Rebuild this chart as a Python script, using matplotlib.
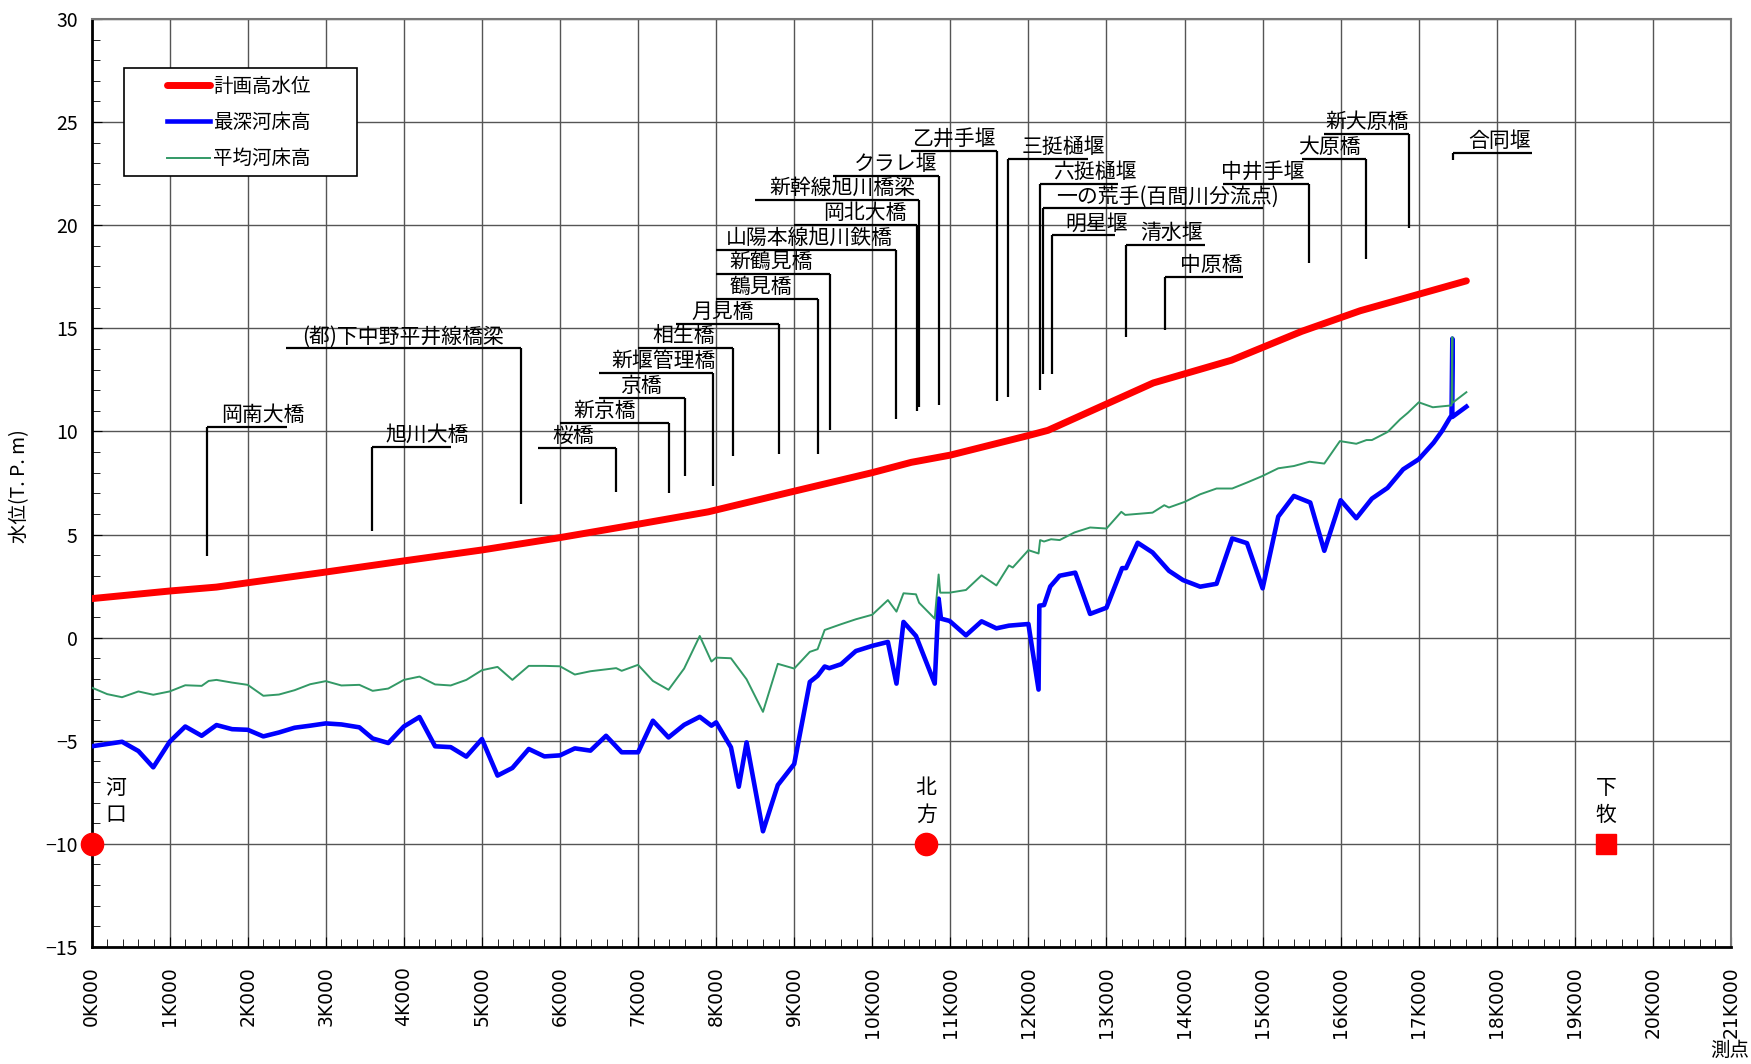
import matplotlib
matplotlib.use("Agg")
import matplotlib.pyplot as plt
from matplotlib.ticker import MultipleLocator
from matplotlib.patches import Rectangle

plt.rcParams['font.family'] = ['Noto Sans CJK JP', 'DejaVu Sans']

# 計画高水位 (km, T.P.m)
plan_km = [0.0, 1.0, 1.6, 2.0, 3.0, 4.0, 5.0, 6.0, 7.0, 7.9, 9.0, 10.0, 10.5, 11.0,
           12.0, 12.25, 13.6, 14.6, 15.5, 16.25, 17.61]
plan_wl = [1.89, 2.26, 2.45, 2.66, 3.18, 3.72, 4.25, 4.85, 5.5, 6.1, 7.1, 8.0, 8.5, 8.85,
           9.8, 10.05, 12.35, 13.45, 14.85, 15.85, 17.3]

# 最深河床高
deep_km = [0.0, 0.39, 0.6, 0.79, 1.0, 1.2, 1.41, 1.6, 1.8, 2.0, 2.2, 2.4, 2.6, 2.8, 3.0,
           3.2, 3.43, 3.6, 3.8, 4.0, 4.2, 4.4, 4.6, 4.8, 5.0, 5.2, 5.39, 5.6, 5.8, 6.0,
           6.19, 6.39, 6.59, 6.79, 7.0, 7.19, 7.39, 7.59, 7.79, 7.94, 8.0, 8.19, 8.29,
           8.39, 8.6, 8.79, 9.0, 9.2, 9.3, 9.39, 9.45, 9.6, 9.79, 10.0, 10.2, 10.31,
           10.4, 10.56, 10.8, 10.85, 10.88, 10.99, 11.2, 11.4, 11.59, 11.75, 12.0,
           12.13, 12.14, 12.2, 12.28, 12.4, 12.6, 12.79, 13.0, 13.2, 13.25, 13.4, 13.59,
           13.8, 13.98, 14.2, 14.41, 14.61, 14.8, 15.0, 15.2, 15.4, 15.61, 15.79, 16.0,
           16.2, 16.4, 16.6, 16.8, 17.0, 17.19, 17.3, 17.39, 17.42, 17.43, 17.43, 17.61]
deep_z = [-5.27, -5.05, -5.5, -6.29, -5.05, -4.31, -4.76, -4.24, -4.44, -4.47, -4.79,
          -4.6, -4.37, -4.27, -4.16, -4.21, -4.35, -4.89, -5.11, -4.31, -3.85, -5.27,
          -5.31, -5.77, -4.92, -6.69, -6.32, -5.4, -5.76, -5.71, -5.37, -5.48, -4.76,
          -5.56, -5.56, -4.03, -4.84, -4.23, -3.84, -4.27, -4.11, -5.32, -7.23, -5.08,
          -9.39, -7.15, -6.13, -2.15, -1.85, -1.40, -1.48, -1.29, -0.65, -0.40, -0.21,
          -2.23, 0.76, 0.08, -2.23, 1.89, 0.92, 0.81, 0.11, 0.79, 0.45, 0.58, 0.66,
          -2.52, 1.55, 1.58, 2.48, 3.0, 3.15, 1.15, 1.45, 3.37, 3.37, 4.6, 4.13, 3.24,
          2.79, 2.47, 2.61, 4.81, 4.58, 2.39, 5.87, 6.87, 6.55, 4.21, 6.66, 5.79, 6.74,
          7.26, 8.16, 8.65, 9.45, 10.03, 10.6, 10.78, 14.5, 10.7, 11.2]

# 平均河床高
mean_km = [0.0, 0.2, 0.39, 0.6, 0.79, 1.0, 1.2, 1.41, 1.5, 1.6, 1.8, 2.0, 2.2, 2.4, 2.6,
           2.8, 3.0, 3.2, 3.43, 3.6, 3.8, 4.0, 4.2, 4.4, 4.6, 4.8, 5.0, 5.2, 5.39, 5.6,
           5.8, 6.0, 6.19, 6.39, 6.72, 6.79, 7.0, 7.19, 7.39, 7.59, 7.79, 7.94, 8.0,
           8.19, 8.39, 8.6, 8.79, 9.0, 9.2, 9.3, 9.39, 9.6, 9.79, 10.0, 10.2, 10.31,
           10.4, 10.56, 10.6, 10.8, 10.85, 10.87, 10.99, 11.2, 11.4, 11.59, 11.75, 11.8,
           12.0, 12.13, 12.15, 12.2, 12.29, 12.4, 12.59, 12.79, 13.0, 13.19, 13.24,
           13.59, 13.74, 13.8, 14.0, 14.2, 14.41, 14.61, 14.8, 15.0, 15.2, 15.4, 15.6,
           15.79, 15.99, 16.2, 16.33, 16.4, 16.6, 16.76, 16.86, 17.0, 17.18, 17.42,
           17.43, 17.43, 17.61]
mean_z = [-2.42, -2.74, -2.89, -2.61, -2.77, -2.61, -2.31, -2.34, -2.1, -2.05, -2.18,
          -2.29, -2.82, -2.76, -2.55, -2.26, -2.11, -2.32, -2.29, -2.58, -2.47, -2.05,
          -1.89, -2.27, -2.32, -2.05, -1.58, -1.42, -2.05, -1.37, -1.37, -1.39, -1.79,
          -1.63, -1.48, -1.61, -1.32, -2.1, -2.53, -1.5, 0.08, -1.16, -0.97, -1.0, -2.02,
          -3.6, -1.27, -1.5, -0.69, -0.56, 0.37, 0.65, 0.89, 1.11, 1.82, 1.26, 2.15,
          2.1, 1.69, 0.92, 3.06, 2.18, 2.18, 2.31, 3.02, 2.53, 3.5, 3.4, 4.24, 4.08,
          4.73, 4.66, 4.77, 4.73, 5.1, 5.34, 5.29, 6.1, 5.95, 6.06, 6.42, 6.31, 6.58,
          6.95, 7.23, 7.23, 7.52, 7.84, 8.21, 8.32, 8.53, 8.44, 9.53, 9.4, 9.58, 9.58,
          9.97, 10.58, 10.9, 11.41, 11.17, 11.26, 14.57, 11.38, 11.9]

# 構造物 (label, label centre km, leader level, leader start/end km, drop km, drop level)
bridge_names = ["岡南大橋", "旭川大橋", "(都)下中野平井線橋梁", "桜橋", "新京橋", "京橋",
                "新堰管理橋", "相生橋", "月見橋", "鶴見橋", "新鶴見橋", "山陽本線旭川鉄橋",
                "岡北大橋", "新幹線旭川橋梁", "クラレ堰", "乙井手堰", "三挺樋堰", "六挺樋堰",
                "一の荒手(百間川分流点)", "明星堰", "清水堰", "中原橋", "中井手堰", "大原橋",
                "新大原橋", "合同堰"]
bridge_label_x = [2.19, 4.3, 3.99, 6.17, 6.57, 7.04, 7.33, 7.58, 8.08, 8.57, 8.7, 9.2,
                  9.91, 9.62, 10.3, 11.04, 12.45, 12.85, 13.78, 12.87, 13.83, 14.34,
                  15.0, 15.86, 16.34, 18.03]
bridge_line_y = [10.2, 9.23, 14.02, 9.2, 10.42, 11.6, 12.82, 14.02, 15.2, 16.4, 17.61,
                 18.8, 20.0, 21.21, 22.39, 23.61, 23.21, 22.0, 20.81, 19.5, 19.02, 17.5,
                 22.0, 23.21, 24.42, 23.5]
bridge_x1 = [1.48, 3.59, 2.49, 5.72, 6.0, 6.5, 6.5, 7.0, 7.49, 8.0, 8.0, 8.0, 9.0, 8.5,
             9.5, 10.49, 11.74, 12.15, 12.19, 12.3, 13.25, 13.75, 14.49, 15.5, 15.79, 17.44]
bridge_x2 = [2.5, 4.61, 5.5, 6.72, 7.4, 7.6, 7.96, 8.21, 8.8, 9.3, 9.46, 10.31, 10.57,
             10.6, 10.85, 11.6, 12.76, 13.15, 15.0, 13.11, 14.26, 14.75, 15.6, 16.33,
             16.87, 18.45]
bridge_drop_x = [1.48, 3.59, 5.5, 6.72, 7.4, 7.6, 7.96, 8.21, 8.8, 9.3, 9.46, 10.31, 10.57,
                 10.6, 10.85, 11.6, 11.74, 12.15, 12.19, 12.3, 13.25, 13.75, 15.6, 16.33,
                 16.87, 17.44]
bridge_drop_y = [3.95, 5.19, 6.48, 7.08, 7.02, 7.85, 7.37, 8.8, 8.9, 8.9, 10.08, 10.6,
                 11.0, 11.16, 11.27, 11.48, 11.69, 12.0, 12.77, 12.77, 14.58, 14.9, 18.18,
                 18.37, 19.87, 23.15]

# 基準地点
station_names = ["河\n口", "北\n方", "下\n牧"]
station_km = [0.0, 10.69, 19.4]
station_z = [-10, -10, -10]
station_marker = ["o", "o", "s"]
station_text_x = [0.31, 10.69, 19.4]

xtick_km = list(range(0, 22))
xtick_labels = [f"{k}K000" for k in xtick_km]

fig = plt.figure(figsize=(17.51, 10.64), dpi=100)
ax = fig.add_axes([0.0523, 0.110, 0.9363, 0.8722])

ax.plot(plan_km, plan_wl, color="#FF0000", lw=5, solid_capstyle="round",
        label="計画高水位", zorder=5)
ax.plot(deep_km, deep_z, color="#0000FF", lw=3.3, label="最深河床高", zorder=4)
ax.plot(mean_km, mean_z, color="#339966", lw=1.4, label="平均河床高", zorder=6)

for i in range(len(bridge_names)):
    ax.plot([bridge_x1[i], bridge_x2[i]], [bridge_line_y[i], bridge_line_y[i]],
            color="black", lw=1.6, zorder=3, solid_capstyle="butt")
    ax.plot([bridge_drop_x[i], bridge_drop_x[i]], [bridge_line_y[i], bridge_drop_y[i]],
            color="black", lw=1.6, zorder=3, solid_capstyle="butt")
    ax.text(bridge_label_x[i], bridge_line_y[i] + 0.05, bridge_names[i], ha="center",
            va="bottom", fontsize=15, zorder=7)

for i in range(len(station_names)):
    ax.plot(station_km[i], station_z[i], marker=station_marker[i], color="#FF0000",
            markersize=16 if station_marker[i] == "o" else 14, clip_on=False, zorder=8)
    ax.text(station_text_x[i], -7.95, station_names[i], ha="center", va="center",
            fontsize=15, linespacing=1.25, zorder=8)

ax.set_xlim(0, 21)
ax.set_ylim(-15, 30)
ax.set_xticks(xtick_km)
ax.set_xticklabels(xtick_labels, rotation=90, fontsize=13.5, family="DejaVu Sans")
ax.xaxis.set_minor_locator(MultipleLocator(0.2))
ax.yaxis.set_major_locator(MultipleLocator(5))
ax.yaxis.set_minor_locator(MultipleLocator(1))
ax.tick_params(axis="y", which="major", labelsize=14, direction="in", length=7, pad=10)
ax.tick_params(axis="x", which="major", direction="in", length=7, pad=14)
ax.tick_params(which="minor", direction="in", length=6)
ax.grid(True, which="major", color="#555555", lw=1)

for side in ["left", "bottom"]:
    ax.spines[side].set_linewidth(2)
    ax.spines[side].set_color("black")
for side in ["top", "right"]:
    ax.spines[side].set_linewidth(1.5)
    ax.spines[side].set_color("#777777")

# legend frame drawn separately so the box can be wider than its entries
ax.add_patch(Rectangle((0.0198, 0.831), 0.1419, 0.116, transform=ax.transAxes,
                       facecolor="white", edgecolor="black", lw=1.2, zorder=9))
leg = ax.legend(loc="upper left", bbox_to_anchor=(0.0398, 0.949), fontsize=14,
                frameon=False, handlelength=2.25, labelspacing=0.78, borderpad=0,
                handletextpad=0.15)
leg.set_zorder(10)

fig.text(20 / 1751, 1 - 486 / 1064, "水位(T. P. m)", rotation=90, ha="center",
         va="center", fontsize=14)
fig.text(0.999, 1 - 1050 / 1064, "測点", ha="right", va="center", fontsize=14)

fig.savefig("out.png", dpi=100)
